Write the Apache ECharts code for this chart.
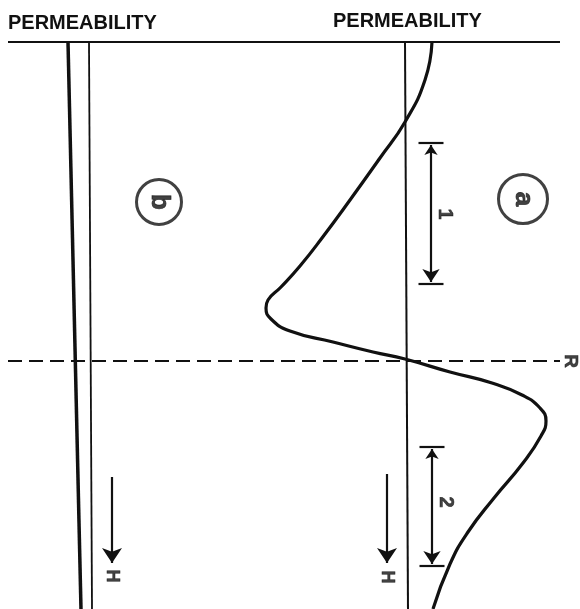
<!DOCTYPE html>
<html>
<head>
<meta charset="utf-8">
<title>Permeability profiles</title>
<script src="https://cdn.jsdelivr.net/npm/echarts@6/dist/echarts.min.js"></script>
<style>
  html, body { margin: 0; padding: 0; background: #fff; }
  #chart { width: 580px; height: 609px; }
</style>
</head>
<body>
<div id="chart"></div>
<script>
// Horizontal axis: permeability (schematic units); vertical axis: depth below the top line.
const headings = ['PERMEABILITY', 'PERMEABILITY'];

// Profile (a): permeability oscillating about the reference value around level R
const curveA = [
  [432, 0], [425, 38], [405, 80], [380, 116], [350, 158], [322, 196],
  [300, 224], [281, 245], [268, 258], [266, 266], [271, 277], [290, 289],
  [333, 300], [373, 310], [405, 317], [450, 330], [492, 341], [522, 353],
  [540, 366], [546, 379], [541, 394], [523, 421], [494, 456], [468, 490],
  [450, 522], [433, 567]
];

// Profile (b): uniform permeability, drawn as a pair of near-vertical lines
const profileBThick = [[68, 0], [81, 567]];
const profileBThin = [[89, 0], [92, 567]];
// Reference permeability of profile (a)
const profileARef = [[405, 0], [408, 567]];

// Top boundary and the dashed reference level R
const topLine = [[8, 0], [560, 0]];
const levelR = [[8, 319], [560, 319]];

// Dimension intervals 1 and 2: [x, depthFrom, depthTo]
const intervals = [[431, 101, 242], [432, 405, 524]];
const intervalLabels = ['1', '2'];
const intervalLabelPos = [[445, 172], [446, 460]];

// Direction of H (downward arrows): [x, depthFrom, depthTo]
const hArrows = [[112, 435, 521], [387, 432, 521]];
const hLabelPos = [[112, 534], [387, 535]];

// Circled case markers: [x, depth, letter, diameter]
const caseMarkers = [[159, 160, 'b', 45], [523, 157, 'a', 49]];
const levelLabel = [[570, 319, 'R']];

const INK = '#111';
const FONT = 'Liberation Sans, Arial, sans-serif';
const chart = echarts.init(document.getElementById('chart'), null, { renderer: 'canvas' });

function segment(points, width, extra) {
  return Object.assign({
    type: 'line',
    data: points,
    symbol: 'none',
    silent: true,
    animation: false,
    lineStyle: { color: INK, width: width },
    z: 2
  }, extra || {});
}

const series = [
  segment(topLine, 2),
  segment(levelR, 2, { lineStyle: { color: INK, width: 2, type: [14, 7] } }),
  segment(profileBThick, 3.5),
  segment(profileBThin, 1.8),
  segment(profileARef, 2),
  segment(curveA, 3.2, { smooth: 0.5, z: 4 })
];

// Interval brackets: end bars plus a double arrow
const barHalf = 12.5;
const bars = [];
intervals.forEach(function (iv) {
  bars.push({ coords: [[iv[0] - barHalf, iv[1]], [iv[0] + barHalf, iv[1]]] });
  bars.push({ coords: [[iv[0] - barHalf, iv[2]], [iv[0] + barHalf, iv[2]]] });
});
series.push({
  type: 'lines',
  coordinateSystem: 'cartesian2d',
  data: bars,
  symbol: ['none', 'none'],
  lineStyle: { color: INK, width: 2.2, opacity: 1 },
  silent: true,
  animation: false,
  z: 3
});
series.push({
  type: 'lines',
  coordinateSystem: 'cartesian2d',
  data: intervals.map(function (iv) { return { coords: [[iv[0], iv[1] + 2], [iv[0], iv[2] - 2]] }; }),
  symbol: ['arrow', 'arrow'],
  symbolSize: [10, 13],
  lineStyle: { color: INK, width: 2.2, opacity: 1 },
  itemStyle: { color: INK },
  silent: true,
  animation: false,
  z: 3
});
series.push({
  type: 'lines',
  coordinateSystem: 'cartesian2d',
  data: hArrows.map(function (a) { return { coords: [[a[0], a[1]], [a[0], a[2]]] }; }),
  symbol: ['none', 'arrow'],
  symbolSize: [10, 15],
  lineStyle: { color: INK, width: 2.2, opacity: 1 },
  itemStyle: { color: INK },
  silent: true,
  animation: false,
  z: 3
});

// Rotated text labels (the figure is annotated sideways)
function rotatedText(points, texts, size) {
  return {
    type: 'scatter',
    data: points.map(function (p, i) { return [p[0], p[1], texts[i]]; }),
    symbolSize: 1,
    itemStyle: { color: 'rgba(0,0,0,0)' },
    label: {
      show: true,
      position: 'inside',
      rotate: -90,
      formatter: function (p) { return p.value[2]; },
      color: INK,
      fontSize: size,
      fontWeight: 'bold',
      fontFamily: FONT,
      textBorderColor: INK,
      textBorderWidth: 0.6
    },
    silent: true,
    animation: false,
    z: 5
  };
}
series.push(rotatedText(intervalLabelPos, intervalLabels, 20));
series.push(rotatedText(hLabelPos, ['H', 'H'], 18));
series.push(rotatedText(levelLabel.map(function (d) { return [d[0], d[1]]; }), levelLabel.map(function (d) { return d[2]; }), 19));

series.push({
  type: 'scatter',
  data: caseMarkers,
  symbol: 'circle',
  symbolSize: function (v) { return v[3]; },
  itemStyle: { color: '#fff', borderColor: INK, borderWidth: 3 },
  label: {
    show: true,
    position: 'inside',
    rotate: -90,
    formatter: function (p) { return p.value[2]; },
    color: INK,
    fontSize: 26,
    fontWeight: 'bold',
    fontFamily: FONT,
    textBorderColor: INK,
    textBorderWidth: 0.8
  },
  silent: true,
  animation: false,
  z: 5
});

chart.setOption({
  animation: false,
  backgroundColor: '#fff',
  title: [
    { text: headings[0], left: 8, top: 13, padding: 0,
      textStyle: { fontSize: 20, fontWeight: 'bold', color: INK, fontFamily: FONT } },
    { text: headings[1], left: 333, top: 11, padding: 0,
      textStyle: { fontSize: 20, fontWeight: 'bold', color: INK, fontFamily: FONT } }
  ],
  grid: { left: 0, right: 0, top: 42, bottom: 0, containLabel: false },
  xAxis: { type: 'value', min: 0, max: 580, show: false },
  yAxis: { type: 'value', min: 0, max: 567, inverse: true, show: false },
  series: series
});
</script>
</body>
</html>
